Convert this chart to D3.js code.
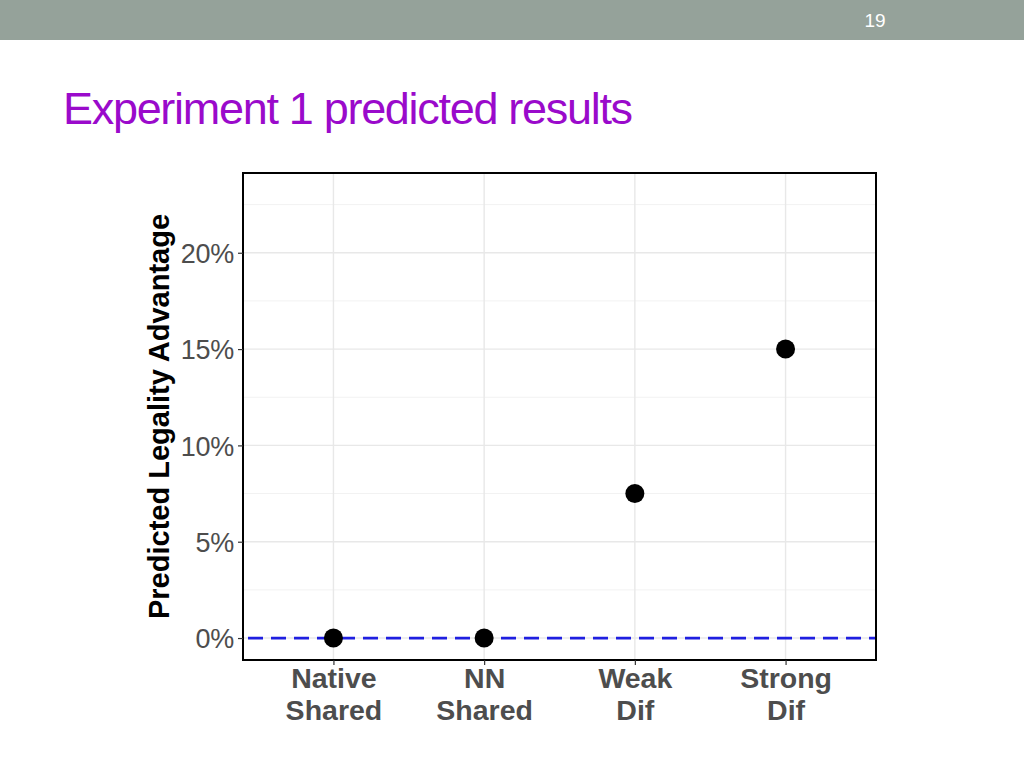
<!DOCTYPE html>
<html><head><meta charset="utf-8">
<script src="https://cdn.jsdelivr.net/npm/d3@7"></script>
<style>html,body{margin:0;padding:0;background:#fff;}svg{display:block;}</style>
</head><body>
<script>
const categories = ["Native\nShared", "NN\nShared", "Weak\nDif", "Strong\nDif"];
const values = [0, 0, 7.5, 15];
const yTicks = [0, 5, 10, 15, 20];
const yMinor = [2.5, 7.5, 12.5, 17.5, 22.5];
const titleText = "Experiment 1 predicted results";
const yAxisTitle = "Predicted Legality Advantage";
const pageNumber = "19";
const refLine = 0;

const W = 1024, H = 768;
const svg = d3.select("body").append("svg").attr("width", W).attr("height", H);

// header bar
svg.append("rect").attr("x", 0).attr("y", 0).attr("width", W).attr("height", 40).attr("fill", "#95a29a");
svg.append("text").attr("x", 875).attr("y", 27).attr("text-anchor", "middle")
  .attr("font-family", "Liberation Sans, Arial, sans-serif").attr("font-size", 19).attr("fill", "#fff")
  .text(pageNumber);

// title
svg.append("text").attr("x", 63).attr("y", 124)
  .attr("font-family", "Liberation Sans, Arial, sans-serif").attr("font-size", 45)
  .attr("fill", "#9a0acb").attr("letter-spacing", -1.3).text(titleText);

// plot panel
const panel = {left: 243, right: 876, top: 173, bottom: 660};
// ggplot discrete expand: 0.6 units each side
const xp = d3.scalePoint().domain(categories).range([panel.left, panel.right]).padding(0.6);
const y = d3.scaleLinear().domain([-1.14, 24.14]).range([panel.bottom, panel.top]);

const g = svg.append("g");
// minor grid
g.selectAll(".minor").data(yMinor).join("line")
  .attr("x1", panel.left).attr("x2", panel.right)
  .attr("y1", d => y(d)).attr("y2", d => y(d))
  .attr("stroke", "#f2f2f2").attr("stroke-width", 1);
// major grid
g.selectAll(".majy").data(yTicks).join("line")
  .attr("x1", panel.left).attr("x2", panel.right)
  .attr("y1", d => y(d)).attr("y2", d => y(d))
  .attr("stroke", "#e8e8e8").attr("stroke-width", 1.4);
g.selectAll(".majx").data(categories).join("line")
  .attr("x1", d => xp(d)).attr("x2", d => xp(d))
  .attr("y1", panel.top).attr("y2", panel.bottom)
  .attr("stroke", "#e8e8e8").attr("stroke-width", 1.4);

// reference dashed line
g.append("line").attr("x1", panel.left).attr("x2", panel.right)
  .attr("y1", y(refLine)).attr("y2", y(refLine))
  .attr("stroke", "#1f1fe0").attr("stroke-width", 2.8)
  .attr("stroke-dasharray", "15,8").attr("stroke-dashoffset", 18);

// points
g.selectAll(".pt").data(values).join("circle")
  .attr("cx", (d, i) => xp(categories[i])).attr("cy", d => y(d)).attr("r", 9.5).attr("fill", "#000");

// panel border
g.append("rect").attr("x", panel.left).attr("y", panel.top)
  .attr("width", panel.right - panel.left).attr("height", panel.bottom - panel.top)
  .attr("fill", "none").attr("stroke", "#000").attr("stroke-width", 2);

// y axis
const yAxis = svg.append("g").attr("transform", `translate(${panel.left},0)`)
  .call(d3.axisLeft(y).tickValues(yTicks).tickSize(5).tickPadding(4).tickFormat(d => d + "%"));
yAxis.select(".domain").remove();
yAxis.selectAll(".tick line").attr("stroke", "#333").attr("stroke-width", 1.2);
yAxis.selectAll(".tick text").attr("font-family", "Liberation Sans, Arial, sans-serif")
  .attr("font-size", 27).attr("fill", "#4d4d4d").attr("letter-spacing", -0.3).attr("dy", "0.36em");

// x axis
const xAxis = svg.append("g").attr("transform", `translate(0,${panel.bottom})`)
  .call(d3.axisBottom(xp).tickSize(5).tickFormat(""));
xAxis.select(".domain").remove();
xAxis.selectAll(".tick line").attr("stroke", "#333").attr("stroke-width", 1.2);
xAxis.selectAll(".tick").each(function(d) {
  const lines = d.split("\n");
  const t = d3.select(this).append("text").attr("text-anchor", "middle")
    .attr("font-family", "Liberation Sans, Arial, sans-serif").attr("font-weight", "bold")
    .attr("font-size", 28.5).attr("fill", "#4d4d4d");
  lines.forEach((l, i) => t.append("tspan").attr("x", 0).attr("y", 28 + i * 32).text(l));
});

// y axis title
svg.append("text").attr("transform", `translate(169,${(panel.top + panel.bottom) / 2}) rotate(-90)`)
  .attr("text-anchor", "middle").attr("font-family", "Liberation Sans, Arial, sans-serif")
  .attr("font-weight", "bold").attr("font-size", 29).attr("fill", "#000")
  .text(yAxisTitle);
</script>
</body></html>
